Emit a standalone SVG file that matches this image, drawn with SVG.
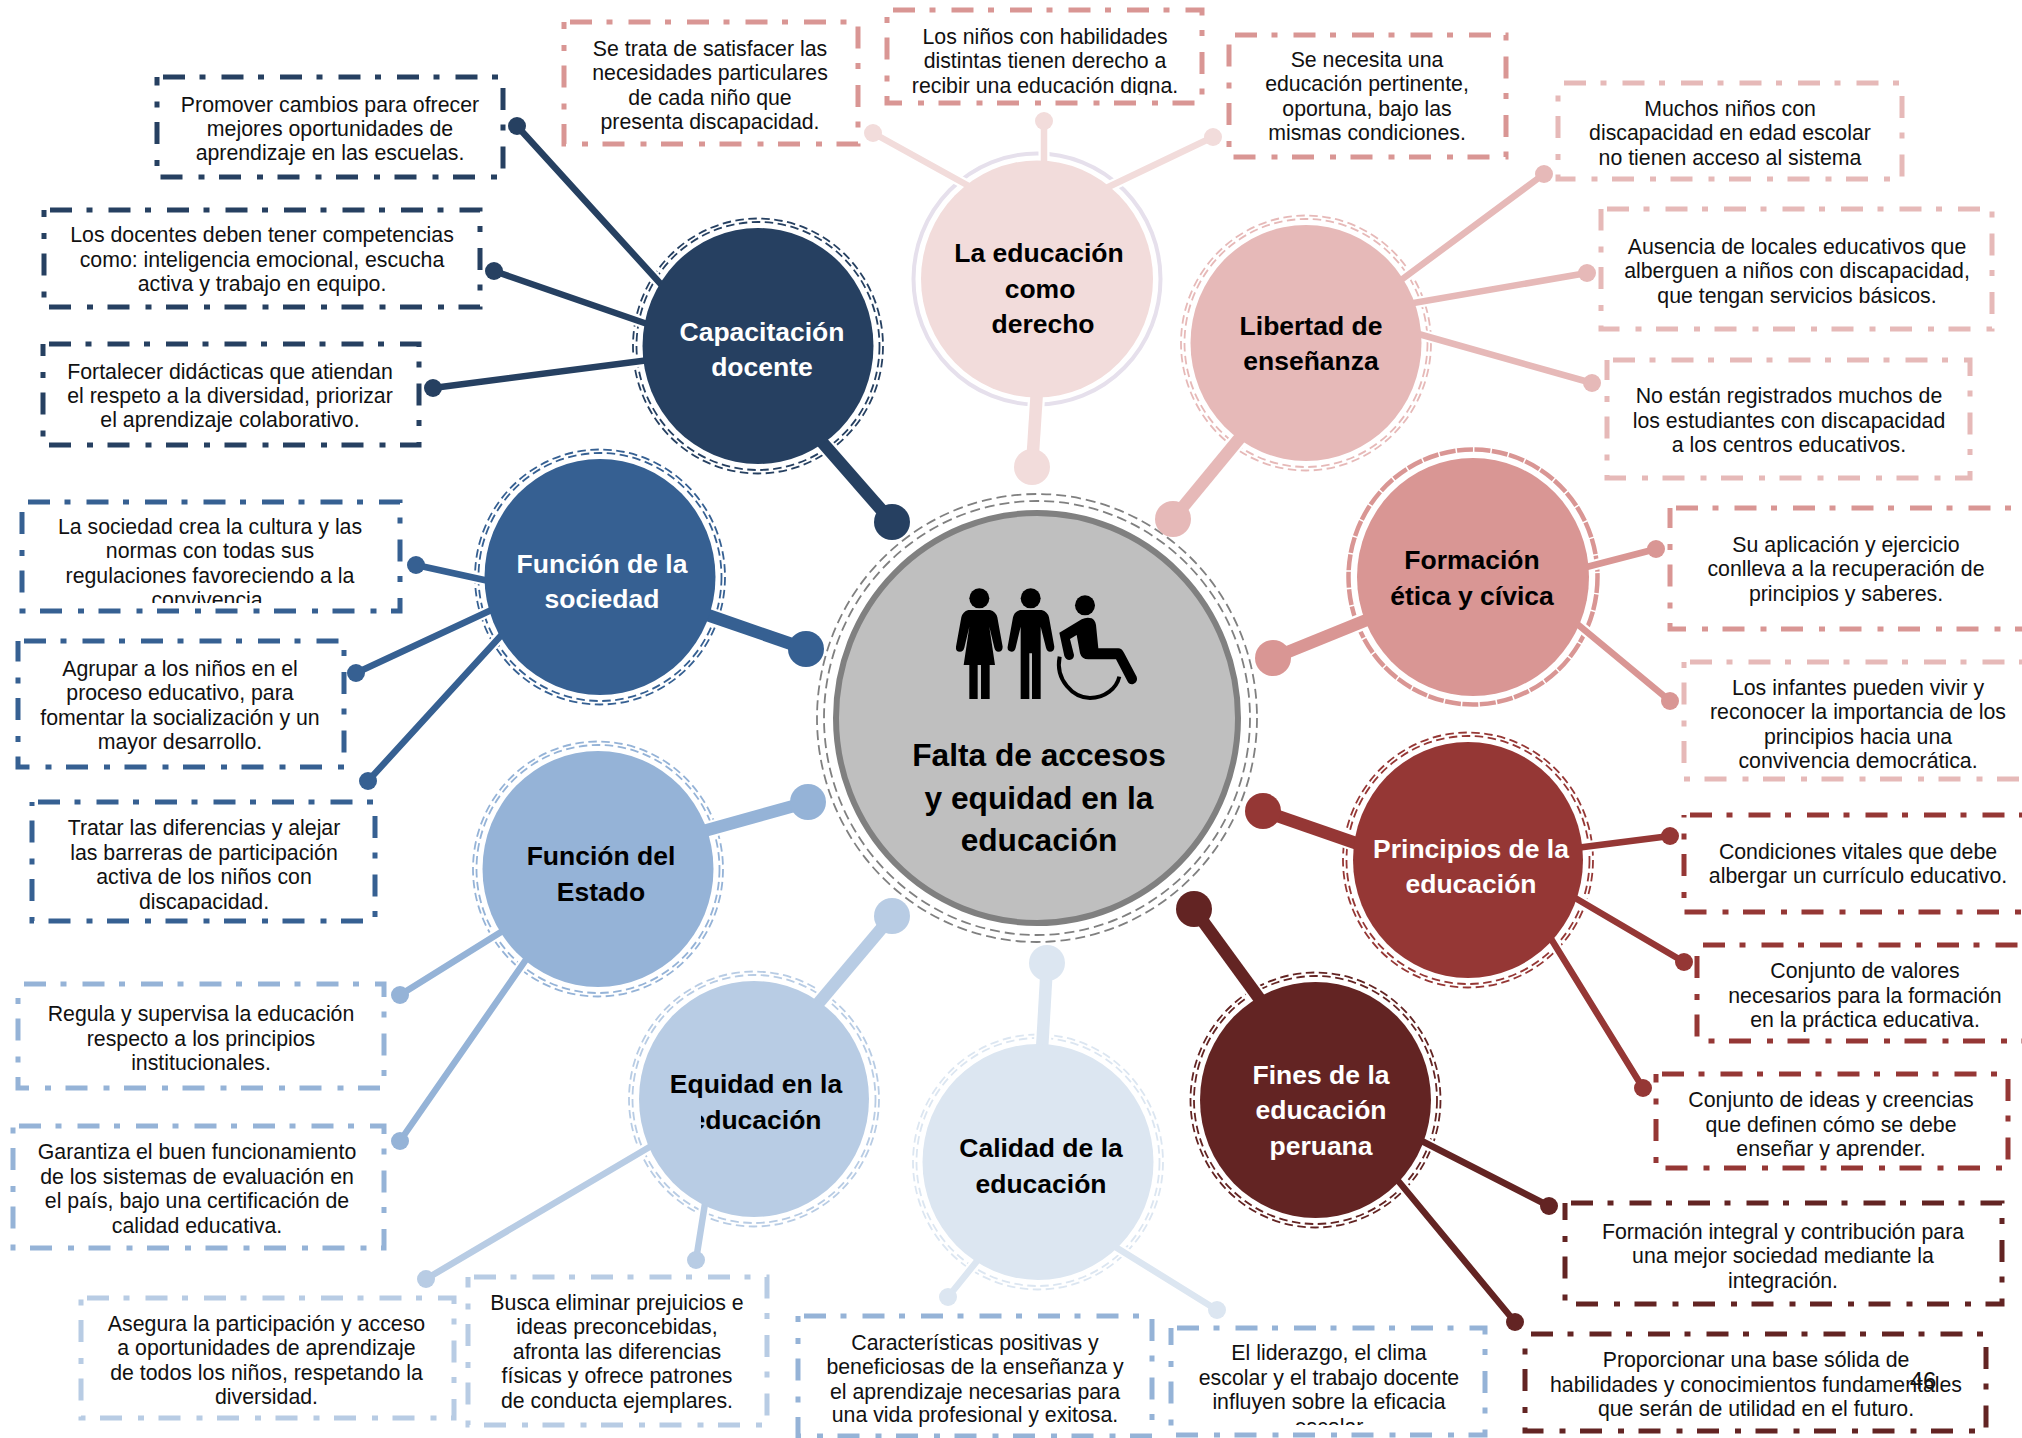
<svg xmlns="http://www.w3.org/2000/svg" width="2022" height="1438" viewBox="0 0 2022 1438">
<style>
text{font-family:"Liberation Sans",Arial,sans-serif;text-anchor:middle}
.t{font-size:21.3px;fill:#111}
.n{font-size:26.5px;font-weight:700;fill:#000}
.w{fill:#fff}
.b{fill:none;stroke-width:5;stroke-dasharray:22 14.5 6 16;stroke-dashoffset:-6}
.r{fill:none;stroke-width:1.8;stroke-dasharray:8.500 4.500}
.th{fill:none;stroke-width:6.500}
.tk{fill:none;stroke-width:12.500}
.hth{fill:none;stroke:#fff;stroke-width:11}
.htk{fill:none;stroke:#fff;stroke-width:17}
.c1{stroke:#264061}.f1{fill:#264061}
.c2{stroke:#366092}.f2{fill:#366092}
.c3{stroke:#95b3d7}.f3{fill:#95b3d7}
.c4{stroke:#b8cce4}.f4{fill:#b8cce4}
.c5{stroke:#dce6f1}.f5{fill:#dce6f1}
.c6{stroke:#632423}.f6{fill:#632423}
.c7{stroke:#953735}.f7{fill:#953735}
.c8{stroke:#d99694}.f8{fill:#d99694}
.c9{stroke:#e6b9b8}.f9{fill:#e6b9b8}
.c0{stroke:#f2dcdb}.f0{fill:#f2dcdb}
</style>
<defs>
<clipPath id="k5"><rect x="880" y="0" width="330" height="95"/></clipPath>
<clipPath id="k14"><rect x="1650" y="1070" width="360" height="90"/></clipPath>
<clipPath id="k18"><rect x="1165" y="1320" width="330" height="105"/></clipPath>
<clipPath id="k23"><rect x="15" y="495" width="390" height="108"/></clipPath>
<clipPath id="k25"><rect x="25" y="795" width="355" height="115"/></clipPath>
</defs>

<g id="rings">
<ellipse cx="1037" cy="718" rx="213" ry="217" fill="none" stroke="#808080" stroke-width="1.800" stroke-dasharray="10 5"/>
<ellipse cx="1037" cy="718" rx="220" ry="224" fill="none" stroke="#808080" stroke-width="1.800" stroke-dasharray="10 5"/>
<ellipse class="r c1" cx="758" cy="346" rx="121.500" ry="124"/><ellipse class="r c1" cx="758" cy="346" rx="125" ry="127.500"/>
<ellipse cx="1037" cy="279" rx="123.500" ry="125.500" fill="none" stroke="#e6e0ec" stroke-width="4"/>
<ellipse class="r c9" cx="1306" cy="343" rx="121.500" ry="124"/><ellipse class="r c9" cx="1306" cy="343" rx="125" ry="127.500"/>
<ellipse cx="1473" cy="577" rx="124.500" ry="127.500" fill="none" stroke="#d99694" stroke-width="4.500" stroke-dasharray="16 1.500"/>
<ellipse class="r c7" cx="1468" cy="860" rx="121.500" ry="124"/><ellipse class="r c7" cx="1468" cy="860" rx="125" ry="127.500"/>
<ellipse class="r c6" cx="1315.500" cy="1100" rx="121.500" ry="124"/><ellipse class="r c6" cx="1315.500" cy="1100" rx="125" ry="127.500"/>
<ellipse class="r c5" cx="1038" cy="1162" rx="121.500" ry="124"/><ellipse class="r c5" cx="1038" cy="1162" rx="125" ry="127.500"/>
<ellipse class="r c4" cx="754" cy="1099" rx="121.500" ry="124"/><ellipse class="r c4" cx="754" cy="1099" rx="125" ry="127.500"/>
<ellipse class="r c3" cx="598" cy="869" rx="121.500" ry="124"/><ellipse class="r c3" cx="598" cy="869" rx="125" ry="127.500"/>
<ellipse class="r c2" cx="600" cy="577" rx="121.500" ry="124"/><ellipse class="r c2" cx="600" cy="577" rx="125" ry="127.500"/>
</g>

<g id="connectors">
<path class="htk" d="M815 434L892 522M1037 390L1032 467M1248 428L1173 519M1374 617L1273 658M1367 847L1263 811M1264 1005L1194 909M1042 1050L1047 963M811 1012L892 916M693 834L808 802M696 611L806 649"/>
<path class="hth" d="M668 292L517 126M656 327L494 271M657 359L433 388M976 190L873 133M1044 175L1044 121M1102 190L1213 137M1393 286L1544 174M1402 305L1587 273M1408 331L1592 383M1575 570L1656 549M1570 618L1670 701M1568 849L1670 836M1565 892L1684 962M1545 929L1643 1088M1412 1136L1549 1206M1390 1171L1515 1322M990 1245L948 1297M1109 1243L1217 1310M658 1142L426 1279M707 1191L696 1260M509 927L400 995M532 951L400 1141M498 583L416 565M500 606L356 673M507 629L368 781"/>
<path class="tk c1" d="M815 434L892 522"/><circle class="f1" cx="892" cy="522" r="18"/>
<path class="tk c0" d="M1037 390L1032 467"/><circle class="f0" cx="1032" cy="467" r="18"/>
<path class="tk c9" d="M1248 428L1173 519"/><circle class="f9" cx="1173" cy="519" r="18"/>
<path class="tk c8" d="M1374 617L1273 658"/><circle class="f8" cx="1273" cy="658" r="18"/>
<path class="tk c7" d="M1367 847L1263 811"/><circle class="f7" cx="1263" cy="811" r="18"/>
<path class="tk c6" d="M1264 1005L1194 909"/><circle class="f6" cx="1194" cy="909" r="18"/>
<path class="tk c5" d="M1042 1050L1047 963"/><circle class="f5" cx="1047" cy="963" r="18"/>
<path class="tk c4" d="M811 1012L892 916"/><circle class="f4" cx="892" cy="916" r="18"/>
<path class="tk c3" d="M693 834L808 802"/><circle class="f3" cx="808" cy="802" r="18"/>
<path class="tk c2" d="M696 611L806 649"/><circle class="f2" cx="806" cy="649" r="18"/>

<path class="th c1" d="M668 292L517 126M656 327L494 271M657 359L433 388"/>
<circle class="f1" cx="517" cy="126" r="9"/><circle class="f1" cx="494" cy="271" r="9"/><circle class="f1" cx="433" cy="388" r="9"/>
<path class="th c0" d="M976 190L873 133M1044 175L1044 121M1102 190L1213 137"/>
<circle class="f0" cx="873" cy="133" r="9"/><circle class="f0" cx="1044" cy="121" r="9"/><circle class="f0" cx="1213" cy="137" r="9"/>
<path class="th c9" d="M1393 286L1544 174M1402 305L1587 273M1408 331L1592 383"/>
<circle class="f9" cx="1544" cy="174" r="9"/><circle class="f9" cx="1587" cy="273" r="9"/><circle class="f9" cx="1592" cy="383" r="9"/>
<path class="th c8" d="M1575 570L1656 549M1570 618L1670 701"/>
<circle class="f8" cx="1656" cy="549" r="9"/><circle class="f8" cx="1670" cy="701" r="9"/>
<path class="th c7" d="M1568 849L1670 836M1565 892L1684 962M1545 929L1643 1088"/>
<circle class="f7" cx="1670" cy="836" r="9"/><circle class="f7" cx="1684" cy="962" r="9"/><circle class="f7" cx="1643" cy="1088" r="9"/>
<path class="th c6" d="M1412 1136L1549 1206M1390 1171L1515 1322"/>
<circle class="f6" cx="1549" cy="1206" r="9"/><circle class="f6" cx="1515" cy="1322" r="9"/>
<path class="th c5" d="M990 1245L948 1297M1109 1243L1217 1310"/>
<circle class="f5" cx="948" cy="1297" r="9"/><circle class="f5" cx="1217" cy="1310" r="9"/>
<path class="th c4" d="M658 1142L426 1279M707 1191L696 1260"/>
<circle class="f4" cx="426" cy="1279" r="9"/><circle class="f4" cx="696" cy="1260" r="9"/>
<path class="th c3" d="M509 927L400 995M532 951L400 1141"/>
<circle class="f3" cx="400" cy="995" r="9"/><circle class="f3" cx="400" cy="1141" r="9"/>
<path class="th c2" d="M498 583L416 565M500 606L356 673M507 629L368 781"/>
<circle class="f2" cx="416" cy="565" r="9"/><circle class="f2" cx="356" cy="673" r="9"/><circle class="f2" cx="368" cy="781" r="9"/>
</g>

<g id="center">
<ellipse cx="1037" cy="718" rx="201" ry="205" fill="#bfbfbf" stroke="#808080" stroke-width="6"/>
<g id="icon" transform="translate(820 500) scale(.33333)" fill="#000">
<circle cx="478" cy="295" r="30"/>
<path d="M445 330H510Q528 335 532 352L548 440Q548 455 535 455Q526 455 523 443L508 380L525 495H509V597H483V495H473V597H448V495H431L448 380L433 443Q430 455 420 455Q406 455 408 440L424 352Q428 335 445 330Z"/>
<circle cx="632" cy="295" r="30"/>
<path d="M600 330H665Q683 335 687 352L703 440Q703 455 690 455Q681 455 678 443L662 380V597H636V460H628V597H602V380L587 443Q584 455 575 455Q561 455 563 440L579 352Q583 335 600 330Z"/>
<circle cx="795" cy="316" r="30"/>
<path d="M718 398L785 358Q800 350 815 355Q825 360 828 375L835 445H895Q905 445 912 458L950 530Q955 545 940 552Q928 555 922 543L888 478H805Q785 478 780 460L770 405L750 417L762 465Q762 478 748 480Q738 480 733 468Z"/>
<path d="M719 470C705 540 760 594 810 594C855 594 890 565 898 530" fill="none" stroke="#000" stroke-width="12"/>
</g>
<text x="1039" y="766" font-size="31.700" font-weight="700">Falta de accesos</text>
<text x="1039" y="809" font-size="31.700" font-weight="700">y equidad en la</text>
<text x="1039" y="851" font-size="31.700" font-weight="700">educación</text>
</g>

<g id="node-capacitacion">
<ellipse class="f1" cx="758" cy="346" rx="115.500" ry="118"/>
<text class="n w" x="762" y="341">Capacitación</text><text class="n w" x="762" y="376">docente</text>
</g>
<g id="node-derecho">
<ellipse class="f0" cx="1037" cy="279" rx="116" ry="118.500"/>
<text class="n" x="1039" y="262">La educación</text><text class="n" x="1040" y="298">como</text><text class="n" x="1043" y="333">derecho</text>
</g>
<g id="node-libertad">
<ellipse class="f9" cx="1306" cy="343" rx="115.500" ry="118"/>
<text class="n" x="1311" y="335">Libertad de</text><text class="n" x="1311" y="370">enseñanza</text>
</g>
<g id="node-etica">
<ellipse class="f8" cx="1473" cy="577" rx="116" ry="119"/>
<text class="n" x="1472" y="569">Formación</text><text class="n" x="1472" y="605">ética y cívica</text>
</g>
<g id="node-principios">
<ellipse class="f7" cx="1468" cy="860" rx="115" ry="118"/>
<text class="n w" x="1471" y="858">Principios de la</text><text class="n w" x="1471" y="893">educación</text>
</g>
<g id="node-fines">
<ellipse class="f6" cx="1315.500" cy="1100" rx="115.500" ry="118"/>
<text class="n w" x="1321" y="1084">Fines de la</text><text class="n w" x="1321" y="1119">educación</text><text class="n w" x="1321" y="1155">peruana</text>
</g>
<g id="node-calidad">
<ellipse class="f5" cx="1038" cy="1162" rx="115.500" ry="118"/>
<text class="n" x="1041" y="1157">Calidad de la</text><text class="n" x="1041" y="1193">educación</text>
</g>
<g id="node-equidad">
<ellipse class="f4" cx="754" cy="1099" rx="115" ry="118"/>
<text class="n" x="756" y="1093">Equidad en la</text><text class="n" x="756" y="1128.500">educación</text>
<rect class="f4" x="684" y="1105" width="17" height="26"/>
</g>
<g id="node-estado">
<ellipse class="f3" cx="598" cy="869" rx="115.500" ry="118"/>
<text class="n" x="601" y="865">Función del</text><text class="n" x="601" y="900.500">Estado</text>
</g>
<g id="node-sociedad">
<ellipse class="f2" cx="600" cy="577" rx="115.500" ry="118"/>
<text class="n w" x="602" y="573">Función de la</text><text class="n w" x="602" y="608">sociedad</text>
</g>

<g id="box1"><rect class="b c1" x="157" y="77" width="346" height="100"/><text class="t" x="330" y="112">Promover cambios para ofrecer</text><text class="t" x="330" y="136">mejores oportunidades de</text><text class="t" x="330" y="160">aprendizaje en las escuelas.</text></g>
<g id="box2"><rect class="b c1" x="44" y="210" width="436" height="97"/><text class="t" x="262" y="242">Los docentes deben tener competencias</text><text class="t" x="262" y="266.500">como: inteligencia emocional, escucha</text><text class="t" x="262" y="291">activa y trabajo en equipo.</text></g>
<g id="box3"><rect class="b c1" x="43" y="344" width="376" height="101"/><text class="t" x="230" y="379">Fortalecer didácticas que atiendan</text><text class="t" x="230" y="403">el respeto a la diversidad, priorizar</text><text class="t" x="230" y="427">el aprendizaje colaborativo.</text></g>
<g id="box4"><rect class="b c8" x="564" y="22" width="294" height="122"/><text class="t" x="710" y="55.500">Se trata de satisfacer las</text><text class="t" x="710" y="80">necesidades particulares</text><text class="t" x="710" y="104.500">de cada niño que</text><text class="t" x="710" y="129">presenta discapacidad.</text></g>
<g id="box5"><rect class="b c8" x="887" y="10" width="315" height="93"/><g clip-path="url(#k5)"><text class="t" x="1045" y="43.600">Los niños con habilidades</text><text class="t" x="1045" y="68">distintas tienen derecho a</text><text class="t" x="1045" y="92.600">recibir una educación digna.</text></g></g>
<g id="box6"><rect class="b c8" x="1229" y="35" width="277" height="122"/><text class="t" x="1367" y="67">Se necesita una</text><text class="t" x="1367" y="91.300">educación pertinente,</text><text class="t" x="1367" y="116">oportuna, bajo las</text><text class="t" x="1367" y="140.300">mismas condiciones.</text></g>
<g id="box7"><rect class="b c9" x="1558" y="83" width="344" height="96"/><text class="t" x="1730" y="116">Muchos niños con</text><text class="t" x="1730" y="140.300">discapacidad en edad escolar</text><text class="t" x="1730" y="165">no tienen acceso al sistema</text></g>
<g id="box8"><rect class="b c9" x="1601" y="209" width="391" height="120"/><text class="t" x="1797" y="253.800">Ausencia de locales educativos que</text><text class="t" x="1797" y="278.300">alberguen a niños con discapacidad,</text><text class="t" x="1797" y="302.800">que tengan servicios básicos.</text></g>
<g id="box9"><rect class="b c9" x="1607" y="360" width="363" height="118"/><text class="t" x="1789" y="403">No están registrados muchos de</text><text class="t" x="1789" y="427.500">los estudiantes con discapacidad</text><text class="t" x="1789" y="452.400">a los centros educativos.</text></g>
<g id="box10"><rect class="b c8" x="1670" y="508" width="360" height="121"/><text class="t" x="1846" y="552">Su aplicación y ejercicio</text><text class="t" x="1846" y="575.500">conlleva a la recuperación de</text><text class="t" x="1846" y="600.700">principios y saberes.</text></g>
<g id="box11"><rect class="b c9" x="1684" y="662" width="346" height="117"/><text class="t" x="1858" y="694.800">Los infantes pueden vivir y</text><text class="t" x="1858" y="719.300">reconocer la importancia de los</text><text class="t" x="1858" y="743.800">principios hacia una</text><text class="t" x="1858" y="768.300">convivencia democrática.</text></g>
<g id="box12"><rect class="b c7" x="1684" y="815" width="346" height="97"/><text class="t" x="1858" y="858.600">Condiciones vitales que debe</text><text class="t" x="1858" y="883">albergar un currículo educativo.</text></g>
<g id="box13"><rect class="b c7" x="1697" y="945" width="333" height="96"/><text class="t" x="1865" y="978">Conjunto de valores</text><text class="t" x="1865" y="1003">necesarios para la formación</text><text class="t" x="1865" y="1027">en la práctica educativa.</text></g>
<g id="box14"><rect class="b c7" x="1656" y="1074" width="352" height="94"/><g clip-path="url(#k14)"><text class="t" x="1831" y="1107.400">Conjunto de ideas y creencias</text><text class="t" x="1831" y="1132">que definen cómo se debe</text><text class="t" x="1831" y="1156.400">enseñar y aprender.</text></g></g>
<g id="box15"><rect class="b c6" x="1565" y="1203" width="437" height="101"/><text class="t" x="1783" y="1238.500">Formación integral y contribución para</text><text class="t" x="1783" y="1263">una mejor sociedad mediante la</text><text class="t" x="1783" y="1287.500">integración.</text></g>
<g id="box16"><rect class="b c6" x="1525" y="1334" width="461" height="97"/><text class="t" x="1756" y="1367">Proporcionar una base sólida de</text><text class="t" x="1756" y="1392">habilidades y conocimientos fundamentales</text><text class="t" x="1756" y="1416">que serán de utilidad en el futuro.</text></g>
<g id="box17"><rect class="b c3" x="798" y="1316" width="354" height="120"/><text class="t" x="975" y="1350">Características positivas y</text><text class="t" x="975" y="1374">beneficiosas de la enseñanza y</text><text class="t" x="975" y="1398.500">el aprendizaje necesarias para</text><text class="t" x="975" y="1422">una vida profesional y exitosa.</text></g>
<g id="box18"><rect class="b c3" x="1171" y="1328" width="314" height="107"/><g clip-path="url(#k18)"><text class="t" x="1329" y="1360">El liderazgo, el clima</text><text class="t" x="1329" y="1384.700">escolar y el trabajo docente</text><text class="t" x="1329" y="1409">influyen sobre la eficacia</text><text class="t" x="1329" y="1433.700">escolar</text></g></g>
<g id="box19"><rect class="b c4" x="81" y="1298" width="373" height="120"/><text class="t" x="266.500" y="1330.500">Asegura la participación y acceso</text><text class="t" x="266.500" y="1355">a oportunidades de aprendizaje</text><text class="t" x="266.500" y="1379.500">de todos los niños, respetando la</text><text class="t" x="266.500" y="1404">diversidad.</text></g>
<g id="box20"><rect class="b c4" x="468" y="1277" width="299" height="148"/><text class="t" x="617" y="1310">Busca eliminar prejuicios e</text><text class="t" x="617" y="1334.400">ideas preconcebidas,</text><text class="t" x="617" y="1359">afronta las diferencias</text><text class="t" x="617" y="1383.400">físicas y ofrece patrones</text><text class="t" x="617" y="1408">de conducta ejemplares.</text></g>
<g id="box21"><rect class="b c3" x="18" y="984" width="366" height="104"/><text class="t" x="201" y="1021">Regula y supervisa la educación</text><text class="t" x="201" y="1045.500">respecto a los principios</text><text class="t" x="201" y="1069.500">institucionales.</text></g>
<g id="box22"><rect class="b c3" x="13" y="1126" width="371" height="122"/><text class="t" x="197" y="1159">Garantiza el buen funcionamiento</text><text class="t" x="197" y="1183.500">de los sistemas de evaluación en</text><text class="t" x="197" y="1208">el país, bajo una certificación de</text><text class="t" x="197" y="1232.500">calidad educativa.</text></g>
<g id="box23"><rect class="b c2" x="22" y="502" width="378" height="109"/><g clip-path="url(#k23)"><text class="t" x="210" y="533.600">La sociedad crea la cultura y las</text><text class="t" x="210" y="558">normas con todas sus</text><text class="t" x="210" y="582.600">regulaciones favoreciendo a la</text><text class="t" x="210" y="607">convivencia.</text></g></g>
<g id="box24"><rect class="b c2" x="18" y="641" width="326" height="126"/><text class="t" x="180" y="675.500">Agrupar a los niños en el</text><text class="t" x="180" y="700">proceso educativo, para</text><text class="t" x="180" y="724.500">fomentar la socialización y un</text><text class="t" x="180" y="749">mayor desarrollo.</text></g>
<g id="box25"><rect class="b c2" x="32" y="802" width="343" height="119"/><g clip-path="url(#k25)"><text class="t" x="204" y="835.300">Tratar las diferencias y alejar</text><text class="t" x="204" y="859.500">las barreras de participación</text><text class="t" x="204" y="884">activa de los niños con</text><text class="t" x="204" y="908.500">discapacidad.</text></g></g>
<text id="page" x="1923" y="1389" font-size="24" fill="#111">46</text>
</svg>
